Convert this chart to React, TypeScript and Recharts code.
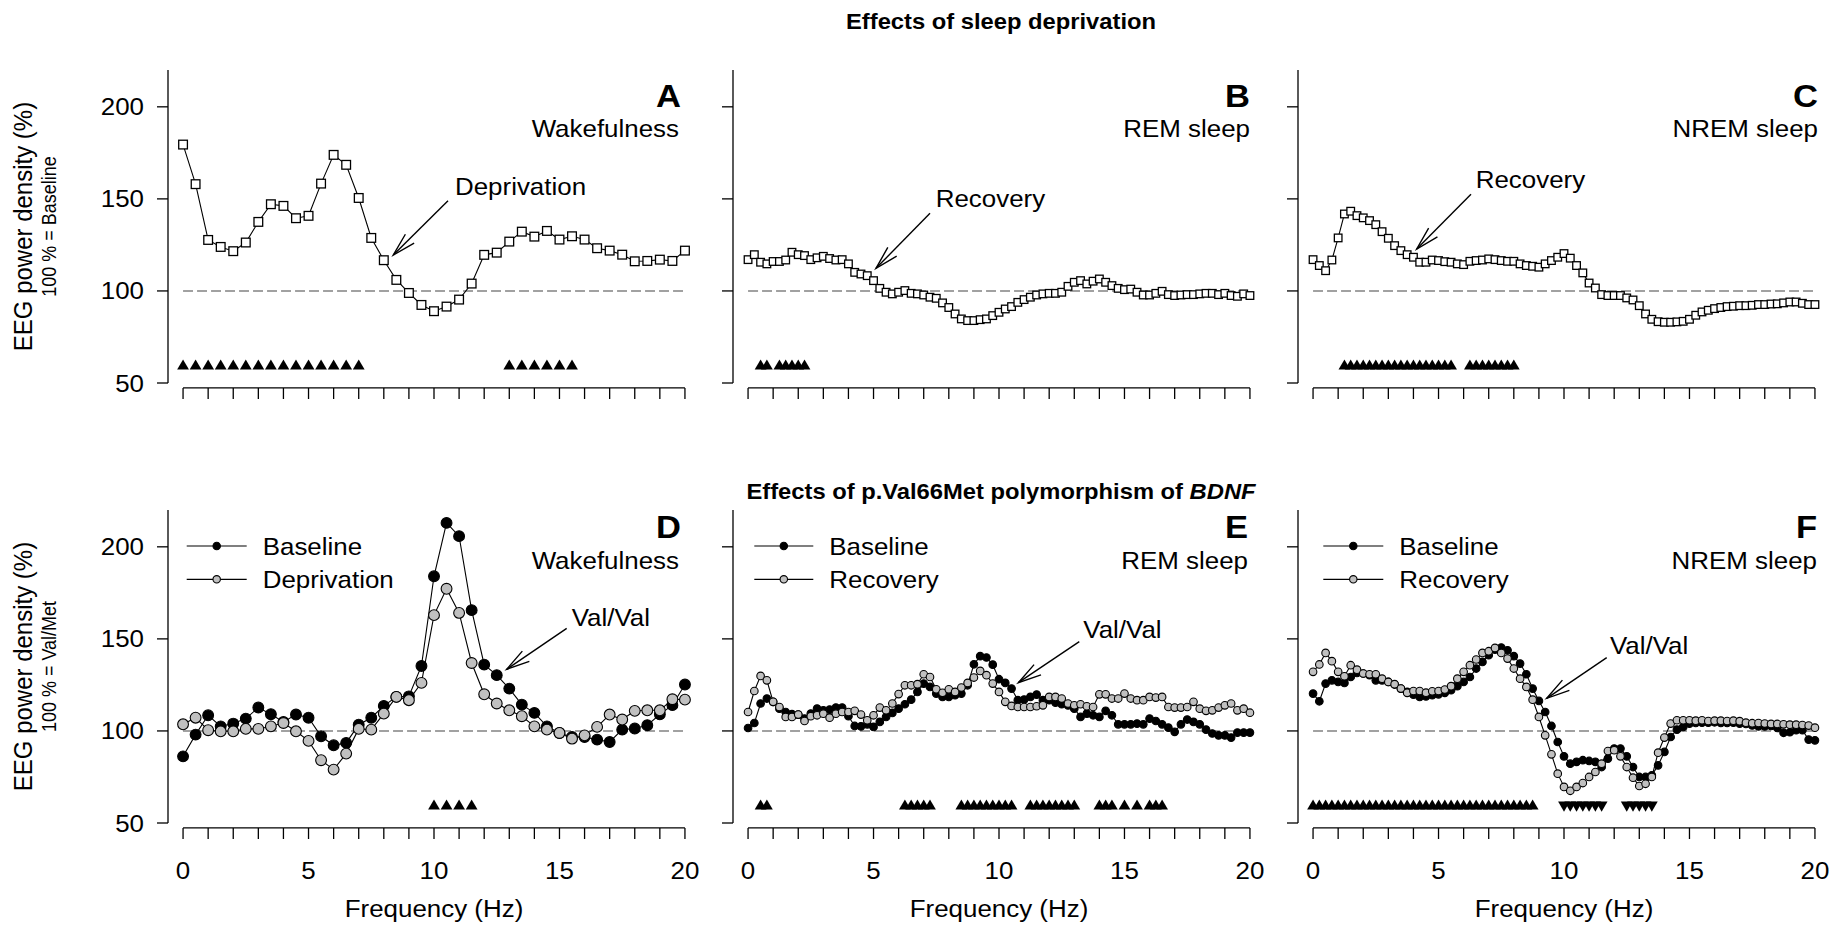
import React from "react"
import { ComposedChart, Line, Scatter, XAxis, YAxis, ReferenceLine } from "recharts"

const FONT = "'Liberation Sans', Arial, Helvetica, sans-serif"
const STRETCH = 1.08

// frequency bins (Hz)
const FREQ_HALF = Array.from({ length: 41 }, (_, i) => i / 2)
const FREQ_QUARTER = Array.from({ length: 81 }, (_, i) => i / 4)

const X_TICKS = [0, 1, 2, 3, 4, 5, 6, 7, 8, 9, 10, 11, 12, 13, 14, 15, 16, 17, 18, 19, 20]
const X_LABELS = [0, 5, 10, 15, 20]
const Y_TICKS = [50, 100, 150, 200]
const SIG_LEVEL = 60

// A: wakefulness, deprivation vs baseline (0.5 Hz bins)
const wakeDeprivation = [
  179.5, 158, 127.7, 123.9, 121.6, 126.3, 137.5, 147.1, 146.2, 139.5, 140.8, 158.3, 173.9, 168.5,
  150.5, 128.8, 116.7, 106, 98.9, 92.4, 89, 91.5, 95.3, 104, 119.6, 120.8, 126.8, 132.2, 129.5,
  132.6, 127.9, 129.7, 127.9, 123.2, 121.9, 119.7, 116.1, 116.3, 117, 116.3, 121.9,
]
const wakeSig = [0, 0.5, 1, 1.5, 2, 2.5, 3, 3.5, 4, 4.5, 5, 5.5, 6, 6.5, 7, 13, 13.5, 14, 14.5, 15, 15.5]

// B: REM sleep, recovery vs baseline (0.25 Hz bins)
const remRecovery = [
  117, 119.7, 115.6, 114.7, 116, 116, 116.8, 121, 119.7, 119.2, 117, 118, 118.8, 117.6, 116.8, 117,
  114.7, 110.1, 109.2, 108.3, 105.6, 101.4, 99.3, 98.4, 99.3, 100.2, 98.7, 98.4, 97.8, 96.6, 96,
  93.5, 91, 87.5, 84.8, 83.9, 83.9, 84.4, 84.8, 86.6, 88.4, 90.2, 91.5, 93.8, 95.3, 96.6, 97.8,
  98.4, 98.7, 98.7, 99.3, 102.5, 104.7, 105.6, 103.8, 105.3, 106.5, 104.7, 102.9, 101.4, 100.7,
  101, 99.3, 97.8, 97.8, 98.7, 99.8, 98, 97.5, 97.8, 98, 98, 98.4, 98.7, 98.7, 98, 98.7, 97.5,
  97.1, 98.4, 97.5,
]
const remSig = [0.5, 0.75, 1.25, 1.5, 1.75, 2, 2.25]

// C: NREM sleep, recovery vs baseline
const nremRecovery = [
  117, 113.8, 111, 116.8, 128.8, 141.8, 143.3, 140.9, 139.7, 138.2, 136, 132.2, 128.6, 124.6,
  121.9, 119.7, 118.3, 115.6, 115.6, 116.8, 116.5, 115.9, 115.6, 114.7, 114.3, 116.1, 116.5,
  116.8, 117.4, 117, 116.5, 116.1, 116.1, 114.7, 113.8, 113.4, 112.9, 114.7, 116.5, 118.3, 120.3,
  117.8, 113.8, 109.8, 104.3, 101.6, 98, 97.5, 97.5, 97.5, 96.2, 95.1, 92, 87.5, 84.6, 83.3, 83,
  83, 83.2, 83.5, 84.6, 86.8, 88.6, 89.5, 90.4, 91, 91.5, 91.7, 92, 92, 92.2, 92.6, 92.6, 92.9,
  93, 93.5, 94, 94, 93.3, 92.6, 92.6,
]
const nremSig = [
  1.25, 1.5, 1.75, 2, 2.25, 2.5, 2.75, 3, 3.25, 3.5, 3.75, 4, 4.25, 4.5, 4.75, 5, 5.25, 5.5,
  6.25, 6.5, 6.75, 7, 7.25, 7.5, 7.75, 8,
]

// D: wakefulness, Val/Val vs Val/Met (0.5 Hz bins)
const wakeBaseline = [
  86.2, 98, 108.5, 102.5, 104, 106.7, 112.7, 109.1, 104.9, 108.9, 107.2, 97.1, 92.2, 93.5, 103.4,
  107.2, 113.6, 118.5, 118.8, 135.3, 184, 213, 205.8, 165.6, 136, 130.3, 123, 114.3, 109.8, 102.5,
  98.9, 96.7, 96.7, 95.3, 94, 100.7, 101.3, 103.1, 109, 114, 125.2,
]
const wakeDepGeno = [
  103.6, 107.2, 100.4, 99.8, 99.8, 101.1, 101.1, 102.5, 104.3, 99.8, 94.6, 84.1, 79, 87.7, 101.1,
  100.7, 109.4, 118.5, 116.7, 126.1, 162.9, 177.2, 164.1, 136.9, 119.9, 114.9, 111.2, 108, 102.5,
  100.7, 98.9, 95.8, 97.6, 102.2, 108.9, 106.2, 110.9, 111.2, 111.2, 117.2, 117,
]
const wakeGenoSig = [10, 10.5, 11, 11.5]

// E: REM sleep, Val/Val vs Val/Met (0.25 Hz bins)
const remBaseline = [
  101.6, 104.3, 114.9, 117.6, 115.8, 112.1, 110.3, 109.1, 108.9, 106.7, 109.4, 112.1, 111.2, 111.6,
  112.7, 112.7, 108, 102.7, 102.5, 103.6, 102.2, 104.9, 107.6, 109.8, 112.1, 114.5, 117, 121.2,
  125.7, 123.9, 120.3, 118.5, 118.5, 119.4, 120.3, 124.8, 136.2, 140.6, 139.9, 136, 128.1, 126.1,
  123, 116.7, 117, 118.5, 119.7, 116.7, 116.7, 115.4, 114.5, 113.9, 112.1, 107.6, 109.4, 108.5,
  107.6, 110.9, 108.5, 103.6, 103.6, 103.6, 104, 103.6, 106.7, 105.4, 103.6, 101.8, 99.5, 103.6,
  106.2, 104.9, 103.6, 100.7, 98.6, 97.6, 97.6, 96.4, 99.1, 99.1, 99.1,
]
const remRecGeno = [
  110.3, 121.7, 129.9, 127.5, 115.8, 113, 107.6, 107.6, 108.9, 105.4, 108, 108.5, 109.4, 107.2,
  109.4, 110.3, 110.3, 110.9, 108.9, 105.8, 108.5, 112.7, 111.2, 114.9, 120, 124.8, 124.8, 125.4,
  130.8, 129.3, 122.6, 120.7, 122.6, 121.2, 123.6, 126.1, 129, 132.6, 130.3, 125.7, 121.2, 115.8,
  113.6, 113, 113, 113, 113.4, 113.9, 118.5, 118.5, 117.6, 114.9, 113.9, 114.5, 113.4, 113, 119.9,
  119.9, 117.6, 117.6, 120.3, 117.6, 116.7, 116.7, 118.5, 118.1, 118.5, 113, 112.7, 112.7, 113,
  115.8, 112.1, 110.9, 111.2, 112.7, 113.9, 114.9, 111.2, 112.1, 109.9,
]
const remGenoSig = [
  0.5, 0.75, 6.25, 6.5, 6.75, 7, 7.25, 8.5, 8.75, 9, 9.25, 9.5, 9.75, 10, 10.25, 10.5, 11.25, 11.5,
  11.75, 12, 12.25, 12.5, 12.75, 13, 14, 14.25, 14.5, 15, 15.5, 16, 16.25, 16.5,
]

// F: NREM sleep, Val/Val vs Val/Met
const nremBaseline = [
  120.3, 116.1, 125.7, 127.5, 126.6, 126.1, 129.3, 131.5, 131.2, 130.3, 127.5, 127.5, 126.6, 125.2,
  123, 121.2, 119.7, 118.5, 118.8, 119.4, 119.9, 120.7, 122.1, 124.3, 126.6, 129.3, 133.9, 137.5,
  141.1, 144.2, 145.3, 143.8, 140.6, 136.6, 130.8, 123, 116.3, 110.3, 102.7, 94, 86.2, 82.2, 83.2,
  84.1, 83.7, 83.2, 80.4, 85, 90.4, 90.4, 86.2, 80.4, 75, 75, 75.9, 81.3, 88.6, 96.7, 100.7, 102.2,
  104, 104.3, 104.5, 104.5, 104.7, 104.3, 104.3, 104.5, 104, 103.8, 103, 102.5, 102.5, 102.7,
  101.6, 99, 99.3, 100.4, 100.4, 95.3, 94.9,
]
const nremRecGeno = [
  132.1, 136.1, 142.4, 137.9, 132.1, 129.7, 135.7, 133.3, 131.2, 130.8, 130.8, 128.4, 126.6, 125.4,
  123, 120.7, 121.7, 121.7, 120.8, 121.5, 121.7, 122.5, 124.3, 128.4, 132.1, 135.7, 138.8, 142.4,
  143.3, 145.1, 142.4, 139.3, 133.9, 128.4, 123.9, 117, 107.6, 97.6, 87.3, 76.8, 69.6, 67.5, 69.6,
  71.7, 75, 77.7, 82.2, 89.1, 89.5, 86.2, 80.4, 74.6, 70.1, 71.3, 75, 88.2, 96.4, 104, 105.8,
  105.8, 105.8, 105.6, 105.8, 105.4, 105.6, 105.6, 105.4, 105.6, 105.3, 104.5, 104.2, 104.3, 104,
  103.8, 103.8, 103.6, 103.4, 103.4, 103.2, 102.9, 101.8,
]
const nremGenoSigUp = [
  0, 0.25, 0.5, 0.75, 1, 1.25, 1.5, 1.75, 2, 2.25, 2.5, 2.75, 3, 3.25, 3.5, 3.75, 4, 4.25, 4.5,
  4.75, 5, 5.25, 5.5, 5.75, 6, 6.25, 6.5, 6.75, 7, 7.25, 7.5, 7.75, 8, 8.25, 8.5, 8.75,
]
const nremGenoSigDown = [10, 10.25, 10.5, 10.75, 11, 11.25, 11.5, 12.5, 12.75, 13, 13.25, 13.5]

// layout
const COL_X = [168, 733, 1298]
const ROW_Y = [70, 510]
const PLOT_W = 532
const PLOT_H = 313
const Y_W = 80
const X_H = 80
const X_DOMAIN = [-0.6, 20.6]
const Y_DOMAIN = [50, 220]
const AXIS_GAP = 47.3 // x axis sits a few px below 50 %

type Marker = "square" | "black" | "gray"

interface SeriesDef {
  values: number[]
  marker: Marker
  size: number
}

function markerEl(kind: Marker, size: number, cx: number, cy: number, key: any) {
  if (cx == null || cy == null) return <g key={key} />
  if (kind === "square")
    return (
      <rect key={key} x={cx - size / 2} y={cy - size / 2} width={size} height={size}
        fill="#fff" stroke="#000" strokeWidth={1.3} />
    )
  return (
    <circle key={key} cx={cx} cy={cy} r={size} fill={kind === "black" ? "#000" : "#c0c0c0"}
      stroke="#000" strokeWidth={1.1} />
  )
}

function upTri(p: any) {
  const { cx, cy } = p
  return <polygon points={`${cx - 5.9},${cy + 5} ${cx + 5.9},${cy + 5} ${cx},${cy - 5.2}`} fill="#000" />
}

function downTri(p: any) {
  const { cx, cy } = p
  return <polygon points={`${cx - 5.9},${cy - 5} ${cx + 5.9},${cy - 5} ${cx},${cy + 5.2}`} fill="#000" />
}

function XTick(props: any) {
  const { x, y, payload, showLabel } = props
  const v = payload.value
  return (
    <g>
      <line x1={x} x2={x} y1={y + 5} y2={y + 16} stroke="#000" strokeWidth={1.3} />
      {showLabel && X_LABELS.includes(v) && (
        <text transform={`translate(${x},${y + 56}) scale(${STRETCH},1)`} textAnchor="middle"
          fontSize={24} fontFamily={FONT} fill="#000">
          {v}
        </text>
      )}
    </g>
  )
}

function YTick(props: any) {
  const { x, y, payload, showLabel } = props
  return (
    <g>
      <line x1={x - 11} x2={x} y1={y} y2={y} stroke="#000" strokeWidth={1.3} />
      {showLabel && (
        <text transform={`translate(${x - 24},${y + 8.5}) scale(${STRETCH},1)`} textAnchor="end"
          fontSize={24} fontFamily={FONT} fill="#000">
          {payload.value}
        </text>
      )}
    </g>
  )
}

interface PanelProps {
  col: number
  row: number
  freqs: number[]
  series: SeriesDef[]
  sigUp: number[]
  sigDown?: number[]
}

function Panel({ col, row, freqs, series, sigUp, sigDown }: PanelProps) {
  const rows = freqs.map((f, i) => {
    const r: any = { f }
    series.forEach((s, k) => (r["s" + k] = s.values[i]))
    return r
  })
  const upData = sigUp.map((f) => ({ f, v: SIG_LEVEL }))
  const downData = (sigDown || []).map((f) => ({ f, v: SIG_LEVEL - 1 }))
  const showX = row === 1
  const showY = col === 0

  return (
    <div style={{ position: "absolute", left: COL_X[col] - Y_W, top: ROW_Y[row] }}>
      <ComposedChart width={Y_W + PLOT_W} height={PLOT_H + X_H} data={rows}
        margin={{ top: 0, right: 0, bottom: 0, left: 0 }}>
        <XAxis type="number" dataKey="f" domain={X_DOMAIN} allowDataOverflow ticks={X_TICKS}
          interval={0} axisLine={false} tickLine={false} tickSize={0} tickMargin={0} height={X_H}
          tick={(p: any) => <XTick {...p} showLabel={showX} />} />
        <YAxis type="number" domain={Y_DOMAIN} allowDataOverflow ticks={Y_TICKS} width={Y_W}
          axisLine={{ stroke: "#000", strokeWidth: 1.3 }} tickLine={false} tickSize={0}
          tickMargin={0} tick={(p: any) => <YTick {...p} showLabel={showY} />} />
        <ReferenceLine segment={[{ x: 0, y: 100 }, { x: 20, y: 100 }]} stroke="#444"
          strokeWidth={1.1} strokeDasharray="10 4" />
        <ReferenceLine segment={[{ x: 0, y: AXIS_GAP }, { x: 20, y: AXIS_GAP }]} stroke="#000"
          strokeWidth={1.3} ifOverflow="visible" />
        {series.map((s, k) => (
          <Line key={k} type="linear" dataKey={"s" + k} stroke="#000" strokeWidth={1.1}
            isAnimationActive={false} activeDot={false}
            dot={(p: any) => markerEl(s.marker, s.size, p.cx, p.cy, p.index)} />
        ))}
        <Scatter data={upData} dataKey="v" shape={upTri} isAnimationActive={false} />
        {downData.length > 0 && (
          <Scatter data={downData} dataKey="v" shape={downTri} isAnimationActive={false} />
        )}
      </ComposedChart>
    </div>
  )
}

function T(props: { x: number; y: number; size?: number; bold?: boolean; anchor?: string; children: any }) {
  const { x, y, size = 24, bold, anchor = "start", children } = props
  return (
    <text transform={`translate(${x},${y}) scale(${STRETCH},1)`} fontSize={size}
      fontWeight={bold ? 700 : 400} fontFamily={FONT} textAnchor={anchor as any} fill="#000">
      {children}
    </text>
  )
}

function Arrow({ x1, y1, x2, y2 }: { x1: number; y1: number; x2: number; y2: number }) {
  const ang = Math.atan2(y1 - y2, x1 - x2)
  const len = 24
  const spread = (15 * Math.PI) / 180
  const b1x = x2 + len * Math.cos(ang + spread)
  const b1y = y2 + len * Math.sin(ang + spread)
  const b2x = x2 + len * Math.cos(ang - spread)
  const b2y = y2 + len * Math.sin(ang - spread)
  return (
    <g stroke="#000" strokeWidth={1.4} fill="none">
      <line x1={x1} y1={y1} x2={x2} y2={y2} />
      <polyline points={`${b1x},${b1y} ${x2},${y2} ${b2x},${b2y}`} />
    </g>
  )
}

function LegendRow({ x1, x2, y, kind, label }: { x1: number; x2: number; y: number; kind: Marker; label: string }) {
  return (
    <g>
      <line x1={x1} x2={x2} y1={y} y2={y} stroke="#000" strokeWidth={1.2} />
      {markerEl(kind, 3.7, (x1 + x2) / 2, y, label)}
      <T x={x2 + 16} y={y + 9}>{label}</T>
    </g>
  )
}

function YTitle({ cy, note }: { cy: number; note: string }) {
  return (
    <g>
      <text transform={`translate(32,${cy}) rotate(-90) scale(1,${STRETCH})`} fontSize={24}
        fontFamily={FONT} textAnchor="middle" fill="#000">
        EEG power density (%)
      </text>
      <text transform={`translate(55.5,${cy}) rotate(-90) scale(1,${STRETCH})`} fontSize={18}
        fontFamily={FONT} textAnchor="middle" fill="#000">
        {note}
      </text>
    </g>
  )
}

export default function App() {
  return (
    <div style={{ position: "absolute", left: 0, top: 0, width: 1843, height: 930, background: "#fff" }}>
      <Panel col={0} row={0} freqs={FREQ_HALF} sigUp={wakeSig}
        series={[{ values: wakeDeprivation, marker: "square", size: 8.7 }]} />
      <Panel col={1} row={0} freqs={FREQ_QUARTER} sigUp={remSig}
        series={[{ values: remRecovery, marker: "square", size: 7.6 }]} />
      <Panel col={2} row={0} freqs={FREQ_QUARTER} sigUp={nremSig}
        series={[{ values: nremRecovery, marker: "square", size: 7.6 }]} />
      <Panel col={0} row={1} freqs={FREQ_HALF} sigUp={wakeGenoSig}
        series={[
          { values: wakeBaseline, marker: "black", size: 5.4 },
          { values: wakeDepGeno, marker: "gray", size: 5.4 },
        ]} />
      <Panel col={1} row={1} freqs={FREQ_QUARTER} sigUp={remGenoSig}
        series={[
          { values: remBaseline, marker: "black", size: 3.8 },
          { values: remRecGeno, marker: "gray", size: 3.8 },
        ]} />
      <Panel col={2} row={1} freqs={FREQ_QUARTER} sigUp={nremGenoSigUp} sigDown={nremGenoSigDown}
        series={[
          { values: nremBaseline, marker: "black", size: 3.8 },
          { values: nremRecGeno, marker: "gray", size: 3.8 },
        ]} />

      <svg width={1843} height={930} style={{ position: "absolute", left: 0, top: 0, pointerEvents: "none" }}>
        <T x={1001} y={29} size={22} bold anchor="middle">Effects of sleep deprivation</T>
        <text transform={`translate(1001,499) scale(${STRETCH},1)`} fontSize={22} fontWeight={700}
          fontFamily={FONT} textAnchor="middle" fill="#000">
          Effects of p.Val66Met polymorphism of <tspan fontStyle="italic">BDNF</tspan>
        </text>

        <YTitle cy={226.5} note="100 % = Baseline" />
        <YTitle cy={666.5} note="100 % = Val/Met" />

        <T x={681} y={107} size={32} bold anchor="end">A</T>
        <T x={679} y={137} anchor="end">Wakefulness</T>
        <T x={1250} y={107} size={32} bold anchor="end">B</T>
        <T x={1250} y={137} anchor="end">REM sleep</T>
        <T x={1818} y={107} size={32} bold anchor="end">C</T>
        <T x={1818} y={137} anchor="end">NREM sleep</T>
        <T x={681} y={538} size={32} bold anchor="end">D</T>
        <T x={679} y={569} anchor="end">Wakefulness</T>
        <T x={1248} y={538} size={32} bold anchor="end">E</T>
        <T x={1248} y={569} anchor="end">REM sleep</T>
        <T x={1817} y={538} size={32} bold anchor="end">F</T>
        <T x={1817} y={569} anchor="end">NREM sleep</T>

        <T x={455} y={195}>Deprivation</T>
        <Arrow x1={448} y1={200.7} x2={393.3} y2={255} />
        <T x={935.7} y={206.7}>Recovery</T>
        <Arrow x1={930} y1={213.3} x2={876} y2={268.3} />
        <T x={1475.7} y={187.7}>Recovery</T>
        <Arrow x1={1471} y1={194.3} x2={1416.7} y2={249} />
        <T x={571.7} y={625.7}>Val/Val</T>
        <Arrow x1={566.7} y1={628.3} x2={506.7} y2={669.3} />
        <T x={1083.3} y={638.3}>Val/Val</T>
        <Arrow x1={1079.3} y1={641.7} x2={1018.3} y2={682.7} />
        <T x={1610} y={654}>Val/Val</T>
        <Arrow x1={1606.7} y1={657.7} x2={1546.7} y2={698.3} />

        <LegendRow x1={186.7} x2={246.7} y={546} kind="black" label="Baseline" />
        <LegendRow x1={186.7} x2={246.7} y={579.3} kind="gray" label="Deprivation" />
        <LegendRow x1={754.3} x2={813.3} y={546} kind="black" label="Baseline" />
        <LegendRow x1={754.3} x2={813.3} y={579.3} kind="gray" label="Recovery" />
        <LegendRow x1={1323.3} x2={1383.3} y={546} kind="black" label="Baseline" />
        <LegendRow x1={1323.3} x2={1383.3} y={579.3} kind="gray" label="Recovery" />

        <T x={434} y={917} anchor="middle">Frequency (Hz)</T>
        <T x={999} y={917} anchor="middle">Frequency (Hz)</T>
        <T x={1564} y={917} anchor="middle">Frequency (Hz)</T>
      </svg>
    </div>
  )
}
